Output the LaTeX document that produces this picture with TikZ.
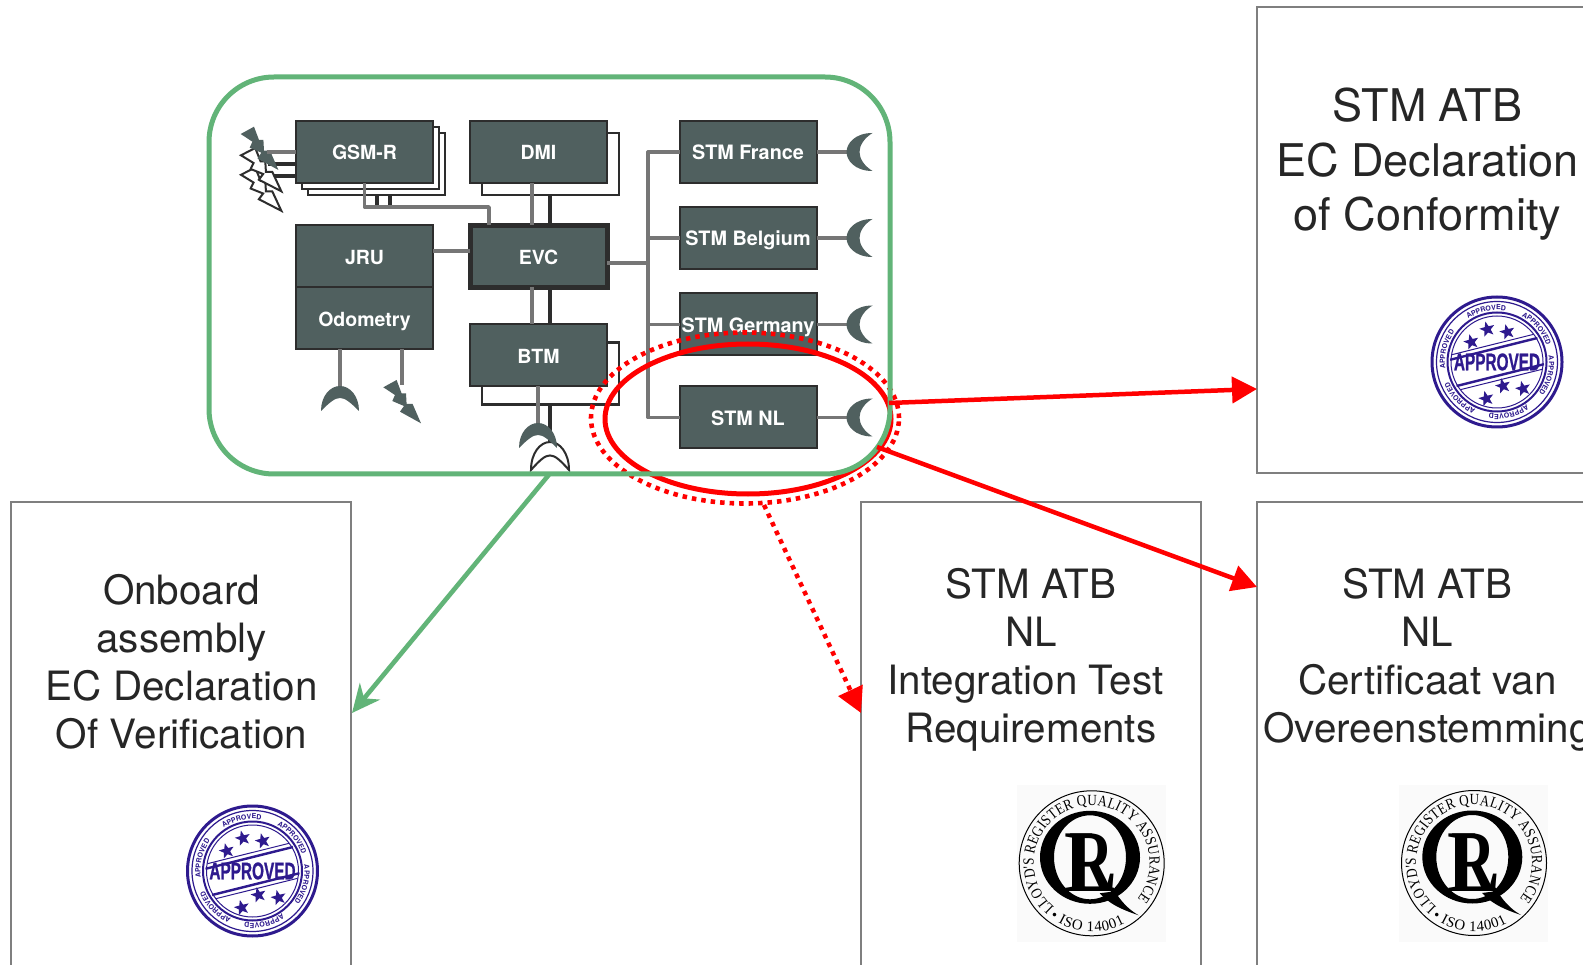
\documentclass[tikz,border=0pt]{standalone}
\usepackage{fontspec}
\usepackage{graphicx}
\setmainfont{TeX Gyre Heros}
\newfontfamily\lrserif{Liberation Serif}
\newfontfamily\lrring[FakeStretch=.85]{Liberation Serif}
\newfontfamily\heavy[FakeBold=1.2]{Liberation Sans Bold}
\usetikzlibrary{arrows.meta,calc,shapes.geometric,decorations.text}
\definecolor{boxfill}{HTML}{50605F}
\definecolor{boxline}{HTML}{2D2D2D}
\definecolor{wire}{HTML}{767676}
\definecolor{grn}{HTML}{62B478}
\definecolor{inkblue}{HTML}{2E1A8E}
\definecolor{textdark}{HTML}{262626}
\definecolor{pagebox}{HTML}{7F7F7F}
\tikzset{
  unit/.style={draw=boxline,line width=2pt,fill=boxfill,text=white,minimum width=137pt,minimum height=62pt,inner sep=0pt,outer sep=0pt,
    font=\fontsize{19.5}{19.5}\selectfont\bfseries,text height=16pt,text depth=0pt,align=center},
  stm/.style={unit,font=\fontsize{19.8}{19.8}\selectfont\bfseries},
  backbox/.style={draw=boxline,line width=2.2pt,fill=white,minimum width=137pt,minimum height=62pt,inner sep=0pt,outer sep=0pt},
  greywire/.style={draw=wire,line width=3.8pt},
  blackwire/.style={draw=boxline,line width=3.4pt},
  thinwire/.style={draw=wire,line width=3.2pt},
  pagesheet/.style={draw=pagebox,line width=2pt,fill=white,inner sep=0pt,outer sep=0pt,anchor=north west,minimum width=340pt},
  bigA/.style={text=textdark,align=center,inner sep=0pt,font=\fontsize{45}{54.5}\selectfont},
  bigB/.style={text=textdark,align=center,inner sep=0pt,font=\fontsize{40.4}{48}\selectfont},
  redarrow/.style={draw=red,line width=4.5pt,-{Triangle[length=25pt,width=26pt]}},
  bolt/.pic={\path[pic actions] (13.3,0)--(0,7.3)--(11.7,15)--(9,21)--(20.7,26)--(16.7,31.7)--(37.7,43.3)--(29.3,24)--(23.3,24)--(22.7,13.3)--(18.3,13.3)--cycle;},
  moon/.pic={\fill[boxfill] (26,-19) .. controls (8,-19) and (0,-8) .. (0,0) .. controls (0,8) and (8,19) .. (26,19) .. controls (18,14) and (13,7) .. (13,0) .. controls (13,-7) and (18,-14) .. (26,-19) -- cycle;},
  antenna/.pic={\path[pic actions] (-19,25) .. controls (-19,10) and (-10,0) .. (0,0) .. controls (10,0) and (19,10) .. (19,25) .. controls (10,16) and (5,12) .. (0,12) .. controls (-5,12) and (-10,16) .. (-19,25) -- cycle;},
  stampword/.style={decorate,decoration={text along path,text align=center,text={|\fontsize{7}{7}\selectfont\bfseries\color{inkblue}|APPROVED}}},
  starmark/.style={star,star points=5,star point ratio=2.4,fill=inkblue,minimum size=16pt,inner sep=0pt,rotate=14},
  approved/.pic={
    \begin{scope}[y=1pt]
      \draw[inkblue,line width=3pt] (0,0) circle[radius=65];
      \draw[inkblue,line width=1.2pt] (0,0) circle[radius=60.5];
      \draw[inkblue,line width=2pt] (0,0) circle[radius=49.5];
      \draw[inkblue,line width=1pt] (0,0) circle[radius=46];
      \foreach \a in {102,40,-15,-77,-136,166}{
        \path[stampword] (\a+26:52) arc[start angle=\a+26,end angle=\a-26,radius=52];
      }
      \begin{scope}[rotate=14]
        \draw[inkblue,line width=1pt] (-42,18) -- (42,18) (-42,-18) -- (42,-18);
        \draw[inkblue,line width=2.4pt] (-45,13.5) -- (45,13.5) (-45,-13.5) -- (45,-13.5);
        \node[inner sep=0pt,text=inkblue] (word) at (0,0) {\fontsize{24}{24}\selectfont\heavy\scalebox{.64}[1]{APPROVED}};
      \end{scope}
      \node[starmark] (s1) at (-25.7,20) {};
      \node[starmark] (s2) at (-9.7,32.7) {};
      \node[starmark] (s3) at (10.3,30) {};
      \node[starmark] (s4) at (-10.7,-36.7) {};
      \node[starmark] (s5) at (6,-24) {};
      \node[starmark] (s6) at (26,-26.7) {};
    \end{scope}
  },
  lrlogo/.pic={
    \begin{scope}[y=1pt]
      \fill[black!2] (-75,78) rectangle (74,-79);
      \draw[black,line width=1pt] (0,0) circle[radius=72.5];
      \path[decorate,decoration={text along path,text align=fit to path,text={|\fontsize{15.5}{15.5}\selectfont\lrring|LLOYD'S REGISTER QUALITY ASSURANCE}}] (230:58) arc[start angle=230,end angle=-38,radius=58];
      \path[decorate,decoration={text along path,text align=fit to path,text={|\fontsize{14.8}{14.8}\selectfont\lrserif|• ISO 14001}}] (232:68.5) arc[start angle=232,end angle=299,radius=68.5];
      \fill[black,even odd rule] (-1.7,6) ellipse[x radius=50,y radius=46.5] (-1.7,6) ellipse[x radius=36,y radius=42];
      \fill[black] (8,-30) .. controls (16,-38) and (23,-44) .. (47,-52) .. controls (40,-48) and (32,-42) .. (23,-28) -- cycle;
      \node[anchor=base west,inner sep=0pt] (ell) at (-27,-28) {\fontsize{88}{88}\selectfont\lrserif\bfseries\scalebox{.9}[1]{L}};
      \node[anchor=base west,inner sep=0pt] (arr) at (-22.7,-28) {\fontsize{88}{88}\selectfont\lrserif\bfseries\scalebox{.7}[1]{R}};
    \end{scope}
  }
}
\begin{document}
\begin{tikzpicture}[x=1pt,y=-1pt]
\useasboundingbox (0,0) rectangle (1583,965);
\clip (0,0) rectangle (1583,965);
\fill[white] (0,0) rectangle (1583,965);

% page sheets
\node[pagesheet,minimum height=466pt] (sheetTR) at (1257,7) {};
\node[pagesheet,minimum height=500pt] (sheetL) at (11,502) {};
\node[pagesheet,minimum height=500pt] (sheetM) at (861,502) {};
\node[pagesheet,minimum height=500pt] (sheetR) at (1257,502) {};
\node[bigA] (txtTR) at (1427.5,164.5) {STM ATB\\EC Declaration\\of Conformity};
\node[bigB] (txtL) at (181.7,662) {Onboard\\assembly\\EC Declaration\\Of Verification};
\node[bigB] (txtM) at (1031,660) {STM ATB\\NL\\Integration Test\rule{11pt}{0pt}\\Requirements};
\node[bigB] (txtR) at (1427.5,660) {STM ATB\\NL\\Certificaat van\\Overeenstemming};

\pic (st1) at (1497,362) {approved};
\pic (st2) at (252.5,871) {approved};
\pic (lr1) at (1091.7,863.3) {lrlogo};
\pic (lr2) at (1474,863) {lrlogo};

% back boxes
\node[backbox] (gsmB) at (376.5,164) {};
\node[backbox] (gsmA) at (370.5,158) {};
\node[backbox] (dmiB) at (550.5,164) {};
\node[backbox] (btmB) at (550.5,373.5) {};

% front units
\node[unit] (gsm) at (364.5,152) {GSM-R};
\node[unit] (dmi) at (538.5,152) {DMI};
\node[unit] (jru) at (364.5,256.5) {JRU};
\node[unit] (odo) at (364.5,318.5) {Odometry};
\node[unit,line width=5pt] (evc) at (538.5,256.5) {EVC};
\node[unit] (btm) at (538.5,355.5) {BTM};
\node[stm] (fr) at (748,152) {STM France};
\node[stm] (be) at (748,238) {STM Belgium};
\node[stm] (de) at (748,324.5) {STM Germany};
\node[stm] (nl) at (748,417.5) {STM NL};

% bolts
\coordinate (bw1) at (241,148);
\coordinate (bw2) at (241,167.5);
\coordinate (bg1) at (240.7,126.7);
\coordinate (bg2) at (383.3,380);
\draw[blackwire] (bw1 |- 0,164) ++(27,0) -- (gsm.west |- 0,164);
\draw[blackwire] (bw1 |- 0,176) ++(27,0) -- (gsm.west |- 0,176);
\pic[fill=white,draw=boxline,line width=2pt,xscale=1.07] at (bw2) {bolt};
\pic[fill=white,draw=boxline,line width=2pt,xscale=1.07] at (bw1) {bolt};
\pic[fill=boxfill] at (bg1) {bolt};
\draw[greywire] ($(bg1)+(26,25.3)$) -- (gsm.west);

% wires around GSM
\draw[blackwire] (gsm.south -| 377,0) ++(0,12) -- ++(0,12);
\draw[blackwire] (gsm.south -| 390,0) ++(0,12) -- ++(0,12);
\draw[greywire,line join=round] (gsm.south) -- ++(0,24) -| ($(evc.north)+(-49.5,0)$);
% DMI / BTM to EVC
\draw[greywire] ($(dmi.south)+(-6.5,0)$) -- ($(evc.north)+(-6.5,0)$);
\draw[blackwire] ($(dmiB.south)+(-0.5,0)$) -- ($(evc.north)+(11.5,0)$);
\draw[greywire] ($(evc.south)+(-6.5,0)$) -- ($(btm.north)+(-6.5,0)$);
\draw[blackwire] ($(evc.south)+(11.5,0)$) -- ($(btm.north)+(11.5,0)$);
\draw[greywire] ($(jru.east)+(0,-5.5)$) -- ($(evc.west)+(0,-5.5)$);

% odometry
\coordinate (ant1) at (340,386);
\coordinate (odoBolt) at (402,385);
\draw[greywire] (ant1 |- odo.south) -- (ant1);
\draw[greywire] (odoBolt |- odo.south) -- (odoBolt);
\pic[fill=boxfill] at (ant1) {antenna};
\pic[fill=boxfill] at (bg2) {bolt};

% btm antennas
\coordinate (ant3) at (550,442);
\coordinate (ant2) at (538,423);
\draw[blackwire] (ant3 |- btmB.south) -- (ant3);
\pic[fill=white,draw=boxline,line width=2pt,yscale=1.12] at (ant3) {antenna};
\draw[greywire] (ant2 |- btm.south) -- (ant2);
\pic[fill=boxfill] at (ant2) {antenna};

% STM bus
\coordinate (busTop) at (648,152);
\coordinate (busBot) at (648,417.5);
\draw[thinwire] (evc.east |- 0,263) -- (busTop |- 0,263);
\draw[thinwire,line join=round] (fr.west) -- (busTop) -- (busBot) -- (nl.west);
\draw[thinwire] (busTop |- be.west) -- (be.west);
\draw[thinwire] (busTop |- de.west) -- (de.west);

% moons
\foreach \b/\n in {fr/m1,be/m2,de/m3,nl/m4}{
  \coordinate (\n) at ($(\b.east)+(30,0)$);
  \draw[thinwire] (\b.east) -- (\n);
  \pic at (\n) {moon};
}

% selection ellipses
\node[draw=red,line width=5pt,ellipse,minimum width=286pt,minimum height=150pt,inner sep=0pt,outer sep=0pt] (sel) at (748,419) {};
\node[draw=red,line width=4.6pt,dash pattern=on 4.5pt off 5pt,ellipse,minimum width=308pt,minimum height=171pt,inner sep=0pt,outer sep=0pt] (seld) at (745,418) {};

% onboard frame
\node[draw=grn,line width=5pt,rounded corners=65pt,minimum width=681pt,minimum height=397pt,inner sep=0pt,outer sep=0pt] (onb) at (549.5,275.5) {};

% arrows
\coordinate (tTR) at (1257,389);
\coordinate (tR) at (1257,587);
\coordinate (tM) at (861,713);
\coordinate (tL) at (352,713);
\coordinate (sA) at (889,403);
\coordinate (sB) at (877,447);
\coordinate (sC) at (764,505);
\draw[redarrow] (sA) -- (tTR);
\draw[redarrow] (sB) -- (tR);
\draw[redarrow,dash pattern=on 4.5pt off 5pt] (sC) -- (tM);
\draw[draw=grn,line width=4.6pt,-{Stealth[length=28pt,width=26pt,inset=9pt]}] (onb.south) -- (tL);
\end{tikzpicture}
\end{document}
